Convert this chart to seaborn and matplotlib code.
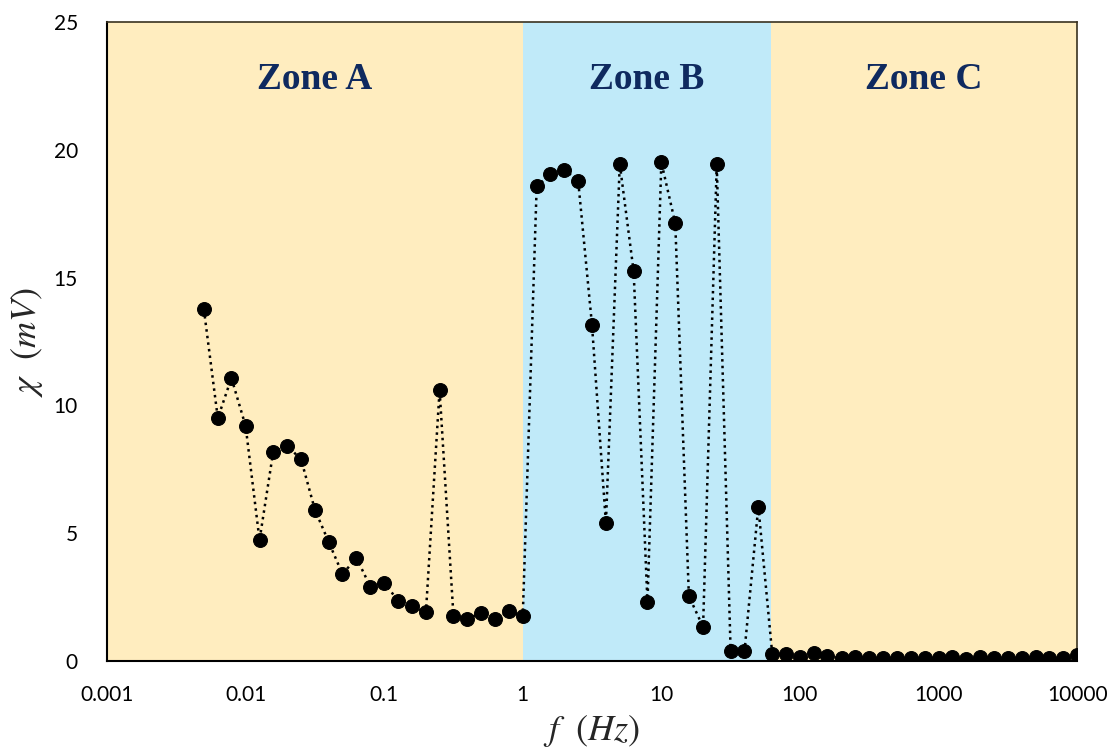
import matplotlib
matplotlib.use("Agg")
import matplotlib.pyplot as plt
import seaborn as sns
import pandas as pd

sns.set_style("white")
plt.rcParams['font.family'] = ['Lato', 'DejaVu Sans']
plt.rcParams['mathtext.fontset'] = 'stix'

# -----------------------------
# DATA
# -----------------------------
freq = [0.005, 0.0063, 0.0079, 0.01, 0.0126, 0.0158, 0.02, 0.0251, 0.0316, 0.0398,
        0.05, 0.0631, 0.0794, 0.1, 0.126, 0.158, 0.2, 0.251, 0.316, 0.398,
        0.501, 0.631, 0.794, 1.0,
        1.26, 1.58, 2.0, 2.51, 3.16, 3.98, 5.01, 6.31, 7.94, 10,
        12.6, 15.8, 20, 25.1, 31.6, 39.8, 50.1,
        63.1, 79.4, 100, 126, 158, 200, 251, 316, 398, 501, 631, 794, 1000,
        1259, 1585, 1995, 2512, 3162, 3981, 5012, 6310, 7943, 10000]

chi = [13.75, 9.5, 11.07, 9.19, 4.73, 8.17, 8.4, 7.9, 5.92, 4.65,
       3.4, 4.03, 2.91, 3.07, 2.35, 2.15, 1.9, 10.6, 1.77, 1.64,
       1.89, 1.64, 1.94, 1.77,
       18.57, 19.04, 19.22, 18.79, 13.13, 5.39, 19.44, 15.24, 2.29, 19.51,
       17.12, 2.54, 1.33, 19.44, 0.41, 0.38, 6.04,
       0.28, 0.26, 0.17, 0.30, 0.20, 0.10, 0.14, 0.10, 0.10, 0.13, 0.10, 0.10, 0.12,
       0.17, 0.07, 0.14, 0.10, 0.10, 0.12, 0.14, 0.10, 0.12, 0.23]

zone_names = ["Zone A", "Zone B", "Zone C"]
zone_edges = [0.001, 1, 62, 10000]
zone_colors = ["#FFEDBF", "#C0EAF9", "#FFEDBF"]

x_ticks = [0.001, 0.01, 0.1, 1, 10, 100, 1000, 10000]
x_tick_labels = ["0.001", "0.01", "0.1", "1", "10", "100", "1000", "10000"]
y_ticks = [0, 5, 10, 15, 20, 25]

df = pd.DataFrame({"f": freq, "chi": chi})

# -----------------------------
# PLOT
# -----------------------------
fig = plt.figure(figsize=(11.15, 7.55), dpi=100)
ax = fig.add_axes([0.096, 0.1245, 0.87, 0.8465])

for i, name in enumerate(zone_names):
    lo, hi = zone_edges[i], zone_edges[i + 1]
    ax.axvspan(lo, hi, color=zone_colors[i], zorder=0, lw=0)
    ax.text((lo * hi) ** 0.5, 22.75, name, ha="center", va="center",
            fontsize=27, fontweight="bold", family="Liberation Serif",
            color="#0F2A5F")

sns.lineplot(data=df, x="f", y="chi", sort=False, color="black",
             linestyle=":", linewidth=1.8, marker="o", markersize=10,
             markeredgecolor="black", ax=ax, zorder=3)

ax.set_xscale("log")
ax.set_xlim(0.001, 10000)
ax.set_ylim(0, 25)
ax.set_xticks(x_ticks)
ax.set_xticklabels(x_tick_labels)
ax.minorticks_off()
ax.set_yticks(y_ticks)
ax.tick_params(axis="both", direction="inout", length=14, width=1.2,
               labelsize=15, colors="black")
ax.tick_params(axis="x", pad=10)
ax.tick_params(axis="y", pad=14)

ax.set_xlabel(r"$f\ \ (Hz)$", fontsize=26, labelpad=6)
ax.set_ylabel(r"$\chi\ \ (mV)$", fontsize=26, labelpad=6)

for side in ["left", "bottom"]:
    ax.spines[side].set_color("black")
    ax.spines[side].set_linewidth(1.5)
for side in ["top", "right"]:
    ax.spines[side].set_color("#3A3220")
    ax.spines[side].set_linewidth(1.2)

plt.savefig("out.png", dpi=100)
